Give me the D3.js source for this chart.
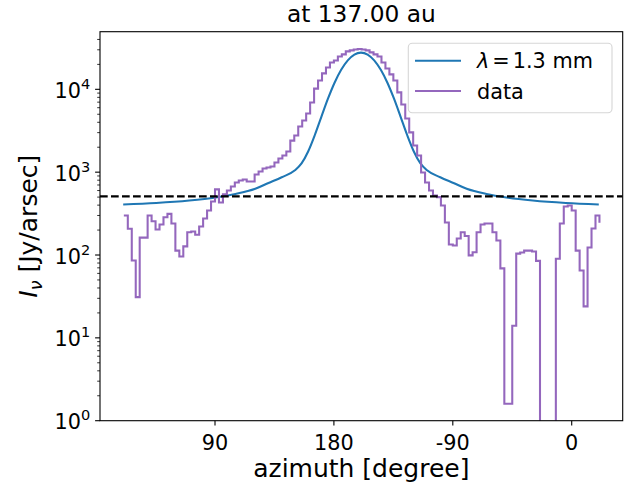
<!DOCTYPE html>
<html><head><meta charset="utf-8">
<script src="https://cdn.jsdelivr.net/npm/d3@7"></script>
<style>
body{margin:0;background:#fff;}
text{font-family:"DejaVu Sans",sans-serif;fill:#000;}
</style></head>
<body><svg id="c" width="637" height="486"></svg>
<script>
// ---- data ----
const modelAzimuth = [20.5, 45.5, 70.5, 90.5, 105.5, 120.5, 130.5, 140.5, 150.5, 155.5, 160.5, 165.5, 170.5, 175.5, 180.5, 185.5, 190.5, 195.5, 200.5, 205.5, 210.5, 215.5, 220.5, 225.5, 230.5, 235.5, 240.5, 245.5, 250.5, 260.5, 270.5, 280.5, 295.5, 310.5, 330.5, 355.5, 380.5];
const modelIntensity = [408, 425, 455, 495, 545, 630, 740, 868, 1052, 1274, 1776, 2790, 4650, 7700, 12010, 17200, 22380, 26260, 27700, 26260, 22380, 17200, 12010, 7700, 4650, 2790, 1776, 1274, 1052, 868, 740, 630, 545, 495, 455, 425, 408];

const dataAzimuth = [21,24,27,30,33,36,39,42,45,48,51,54,57,60,63,66,69,72,75,78,81,84,87,90,93,96,99,102,105,108,111,114,117,120,123,126,129,132,135,138,141,144,147,150,153,156,159,162,165,168,171,174,177,180,183,186,189,192,195,198,201,204,207,210,213,216,219,222,225,228,231,234,237,240,243,246,249,252,255,258,261,264,267,270,273,276,279,282,285,288,291,294,297,300,303,306,309,312,315,318,321,324,327,330,333,336,339,342,345,348,351,354,357,360,363,366,369,372,375,378,381];
const dataIntensity = [300,207,86,31,162,162,300,255,203,234,286,314,240,113,96,127,188,192,176,221,276,344,443,620,430,540,600,672,750,794,816,772,772,938,1020,1108,1140,1172,1310,1463,1590,1780,2400,2770,3560,4210,5110,6930,10200,12800,15570,18350,21100,22300,24950,26400,28700,29500,30300,30700,30300,29500,27900,26400,24950,21100,17860,15140,12800,9180,6570,4450,3020,2100,1590,990,750,600,523,500,396,247,134,130,158,188,170,99,108,188,234,240,240,188,150,69,1.6,1.6,14,104,107,113,113,110,85,0.3,0.3,0.3,0.3,90,240,385,396,344,113,65,24,123,209,300,245];

const thresholdLevel = 510;
const xTickValues = [90, 180, 270, 360];
const xTickLabels = ["90", "180", "-90", "0"];
const yTickExponents = [0, 1, 2, 3, 4];
const xDomain = [2.95, 398.6];
const yDomain = [1, 49600];
const titleText = "at 137.00 au";
const xLabelText = "azimuth [degree]";
const legendLabels = ["λ", "data"];

// ---- layout ----
const svg = d3.select("#c");
const L = 100, T = 31.7, R = 622.7, B = 420.7;
const FS = 20.8, FT = 23.3, FL = 25;
const x = d3.scaleLinear().domain(xDomain).range([L, R]);
const y = d3.scaleLog().domain(yDomain).range([B, T]);

svg.append("defs").append("clipPath").attr("id","clip")
  .append("rect").attr("x",L).attr("y",T).attr("width",R-L).attr("height",B-T);

const plot = svg.append("g").attr("clip-path","url(#clip)");

// model
const modelLine = d3.line().x((d,i)=>x(modelAzimuth[i])).y(d=>y(d)).curve(d3.curveMonotoneX);
plot.append("path").datum(modelIntensity).attr("d", modelLine)
  .attr("fill","none").attr("stroke","#1f77b4").attr("stroke-width",2.08);

// data (steps)
const dataLine = d3.line().x((d,i)=>x(dataAzimuth[i])).y(d=>y(d)).curve(d3.curveStepAfter);
plot.append("path").datum(dataIntensity).attr("d", dataLine)
  .attr("fill","none").attr("stroke","#9467bd").attr("stroke-width",2.08).attr("stroke-linejoin","miter");

// threshold dashed
plot.append("line").attr("x1",L).attr("x2",R).attr("y1",y(thresholdLevel)).attr("y2",y(thresholdLevel))
  .attr("stroke","#000").attr("stroke-width",2.08).attr("stroke-dasharray","7.7,3.3");

// frame
svg.append("rect").attr("x",L).attr("y",T).attr("width",R-L).attr("height",B-T)
  .attr("fill","none").attr("stroke","#000").attr("stroke-width",1.1);

// x axis ticks
const xa = svg.append("g");
xTickValues.forEach((v,i)=>{
  xa.append("line").attr("x1",x(v)).attr("x2",x(v)).attr("y1",B).attr("y2",B+4.9).attr("stroke","#000").attr("stroke-width",1.1);
  xa.append("text").attr("x",x(v)).attr("y",450).attr("text-anchor","middle").attr("font-size",FS).text(xTickLabels[i]);
});

// y axis ticks (log)
const ya = svg.append("g");
yTickExponents.forEach(e=>{
  const v = Math.pow(10,e);
  const yy = y(v);
  ya.append("line").attr("x1",L-4.9).attr("x2",L).attr("y1",yy).attr("y2",yy).attr("stroke","#000").attr("stroke-width",1.1);
  const t = ya.append("text").attr("x",L-9.8).attr("y",yy+8.5).attr("text-anchor","end").attr("font-size",FS);
  t.append("tspan").text("10");
  t.append("tspan").attr("font-size",FS*0.7).attr("dy",-9).text(String(e));
});
const minorVals = [];
yTickExponents.concat([5]).forEach(e=>{ for(let m=2;m<10;m++){ const v=m*Math.pow(10,e); if(v>=yDomain[0]&&v<=yDomain[1]) minorVals.push(v);} });
minorVals.forEach(v=>{
  ya.append("line").attr("x1",L-2.8).attr("x2",L).attr("y1",y(v)).attr("y2",y(v)).attr("stroke","#000").attr("stroke-width",0.8);
});

// labels
svg.append("text").attr("x",(L+R)/2).attr("y",22).attr("text-anchor","middle").attr("font-size",FT).text(titleText);
svg.append("text").attr("x",(L+R)/2).attr("y",477).attr("text-anchor","middle").attr("font-size",FL).text(xLabelText);
const yl = svg.append("text").attr("transform",`translate(37,${(T+B)/2}) rotate(-90)`).attr("text-anchor","middle").attr("font-size",FL);
yl.append("tspan").attr("font-style","italic").text("I");
yl.append("tspan").attr("font-style","italic").attr("font-size",FL*0.7).attr("dy",4.5).text("ν");
yl.append("tspan").attr("dy",-4.5).text(" [Jy/arsec]");

// legend
const lg = svg.append("g");
lg.append("rect").attr("x",408.3).attr("y",43.3).attr("width",203.7).attr("height",69.4).attr("rx",4)
  .attr("fill","#fff").attr("fill-opacity",0.8).attr("stroke","#d6d6d6").attr("stroke-width",1.1);
const legColors = ["#1f77b4", "#9467bd"];
[60.7, 91].forEach((ly,i)=>{
  lg.append("line").attr("x1",415).attr("x2",461).attr("y1",ly).attr("y2",ly).attr("stroke",legColors[i]).attr("stroke-width",2.08);
});
const t1 = lg.append("text").attr("x",477).attr("y",68).attr("font-size",FS);
t1.append("tspan").attr("font-style","italic").text(legendLabels[0]);
t1.append("tspan").attr("dx",3).text("=");
t1.append("tspan").attr("dx",3).text("1.3 mm");
lg.append("text").attr("x",477).attr("y",98.5).attr("font-size",FS).text(legendLabels[1]);
</script></body></html>
